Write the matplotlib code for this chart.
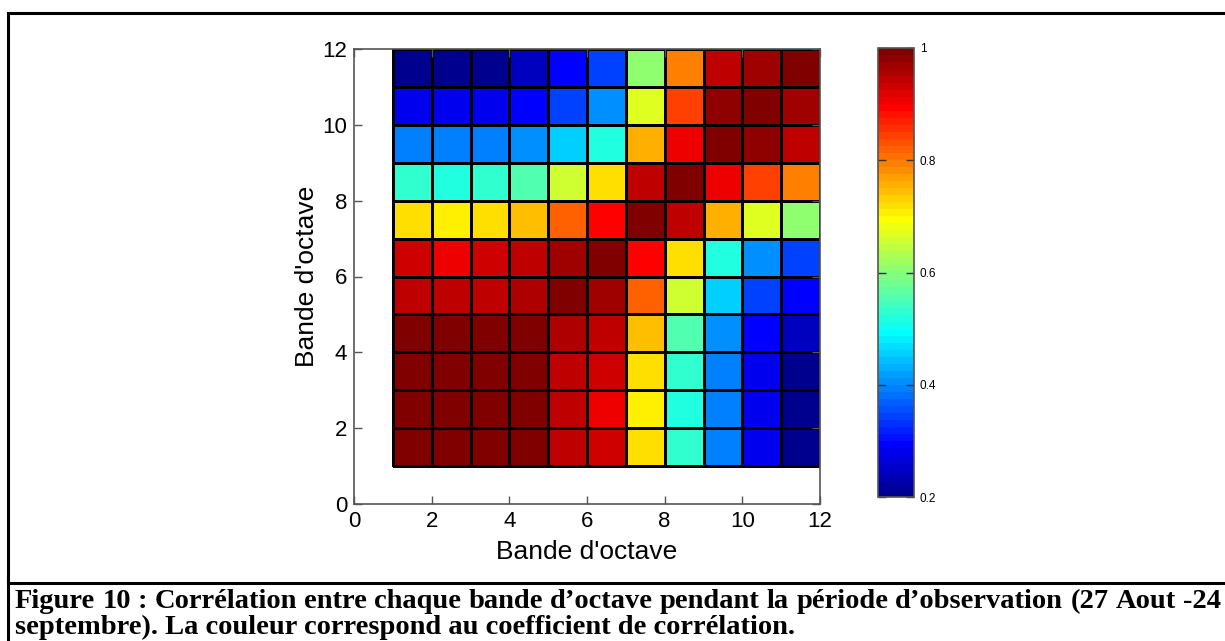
import numpy as np
import matplotlib
matplotlib.use('Agg')
import matplotlib.pyplot as plt
from matplotlib.lines import Line2D
from matplotlib.colors import ListedColormap

# Données : coefficient de corrélation entre bandes d'octave (lignes = bande y 1..11)
bandes = np.arange(1, 13)
corr = np.array([
    [1.00, 1.00, 1.00, 0.99, 0.94, 0.93, 0.72, 0.53, 0.39, 0.28, 0.21],
    [1.00, 1.00, 1.00, 0.99, 0.94, 0.91, 0.71, 0.52, 0.39, 0.28, 0.20],
    [1.00, 1.00, 1.00, 1.00, 0.94, 0.93, 0.72, 0.53, 0.39, 0.28, 0.20],
    [0.99, 0.99, 1.00, 1.00, 0.95, 0.94, 0.74, 0.56, 0.41, 0.30, 0.24],
    [0.94, 0.94, 0.94, 0.95, 1.00, 0.97, 0.82, 0.66, 0.45, 0.35, 0.29],
    [0.93, 0.91, 0.93, 0.94, 0.97, 1.00, 0.90, 0.72, 0.52, 0.41, 0.34],
    [0.72, 0.71, 0.72, 0.74, 0.82, 0.90, 1.00, 0.94, 0.75, 0.67, 0.61],
    [0.53, 0.52, 0.53, 0.56, 0.66, 0.72, 0.94, 1.00, 0.91, 0.84, 0.79],
    [0.39, 0.39, 0.39, 0.41, 0.45, 0.52, 0.75, 0.91, 1.00, 0.98, 0.94],
    [0.28, 0.28, 0.28, 0.30, 0.35, 0.41, 0.67, 0.84, 0.98, 1.00, 0.97],
    [0.21, 0.20, 0.20, 0.24, 0.29, 0.34, 0.61, 0.79, 0.94, 0.97, 1.00],
])
ticks_axes = [0, 2, 4, 6, 8, 10, 12]
ticks_cbar = [0.2, 0.4, 0.6, 0.8, 1.0]
labels_cbar = ['0.2', '0.4', '0.6', '0.8', '1']
ligne1 = "Figure 10 : Corrélation entre chaque bande d’octave pendant la période d’observation (27 Aout -24"
ligne2 = "septembre). La couleur correspond au coefficient de corrélation."

# jet(64) façon MATLAB
m = 64
n = m // 4
u = np.concatenate([np.arange(1, n + 1) / n, np.ones(n - 1), np.arange(n, 0, -1) / n])
g = n // 2 + np.arange(1, len(u) + 1)
J = np.zeros((m, 3))
for k, off in ((0, n), (1, 0), (2, -n)):
    idx = g + off
    ok = (idx >= 1) & (idx <= m)
    J[idx[ok] - 1, k] = u[ok]
jet64 = ListedColormap(J)

W, H = 1225, 641
fig = plt.figure(figsize=(W / 100, H / 100), dpi=100)
plt.rcParams['font.family'] = ['Liberation Sans', 'DejaVu Sans']

def fx(px):
    return px / W

def fy(py):
    return 1 - py / H

gris = '#555555'

# Carte de couleurs
ax = fig.add_axes([fx(354), fy(504), fx(820) - fx(354), fy(49) - fy(504)])
pc = ax.pcolormesh(bandes, bandes, corr, cmap=jet64, vmin=0.2, vmax=1.0,
                   edgecolors='black', linewidth=0.75)
ax.set_xlim(0, 12)
ax.set_ylim(0, 12)
ax.set_xticks(ticks_axes)
ax.set_yticks(ticks_axes)
ax.tick_params(direction='in', length=6, width=1, color=gris, labelsize=16,
               top=True, right=True, pad=5)
for s in ax.spines.values():
    s.set_color(gris)
    s.set_linewidth(1.2)
ax.set_xlabel("Bande d'octave", fontsize=19, labelpad=6)
ax.set_ylabel("Bande d'octave", fontsize=19, labelpad=2)

# Barre de couleur
cax = fig.add_axes([fx(878), fy(497), fx(914) - fx(878), fy(48) - fy(497)])
cb = fig.colorbar(pc, cax=cax, ticks=ticks_cbar)
cb.ax.set_yticklabels(labels_cbar)
cb.ax.tick_params(direction='in', length=6, width=1, color='#333333',
                  labelsize=8.5, left=True, right=True, pad=4)
cb.outline.set_edgecolor(gris)
cb.outline.set_linewidth(1.2)

# Cadre de la figure
fig.add_artist(Line2D([fx(8), 1], [fy(13), fy(13)], color='black', lw=2.2))
fig.add_artist(Line2D([fx(8), fx(8)], [fy(13), 0], color='black', lw=2.2))
fig.add_artist(Line2D([fx(8), 1], [fy(583), fy(583)], color='black', lw=2.2))

# Légende (première ligne justifiée)
capt = dict(family=['Liberation Serif', 'DejaVu Serif'], weight='bold', fontsize=20.5)
fig.canvas.draw()
renderer = fig.canvas.get_renderer()
mots = ligne1.split(' ')
objs = [fig.text(0, fy(608), m_, ha='left', va='baseline', **capt) for m_ in mots]
larg = [o.get_window_extent(renderer).width for o in objs]
x0, x1 = 15, 1221
ecart = (x1 - x0 - sum(larg)) / (len(mots) - 1)
x = x0
for o, w in zip(objs, larg):
    o.set_x(fx(x))
    x += w + ecart
fig.text(fx(x0), fy(634), ligne2, ha='left', va='baseline', **capt)

fig.savefig('out.png', dpi=100)
